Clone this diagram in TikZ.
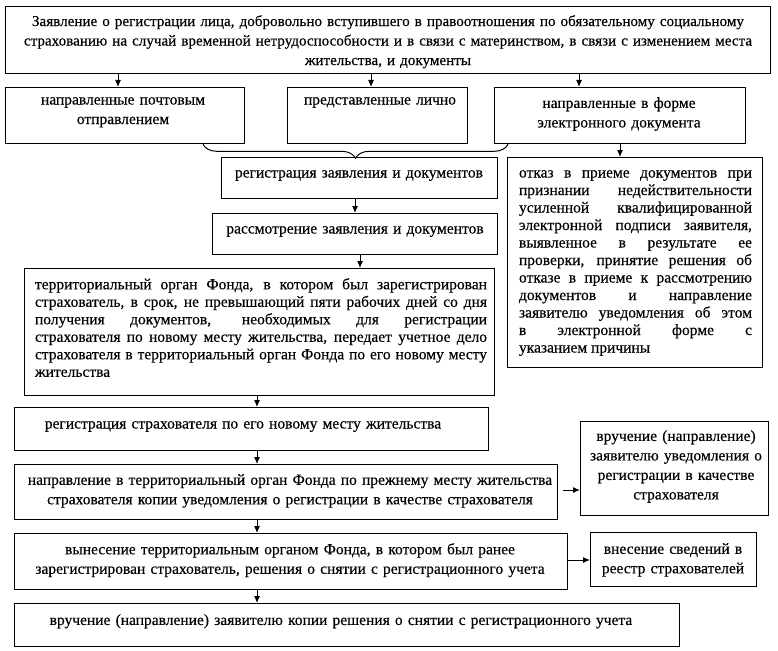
\documentclass[tikz,border=0pt]{standalone}
\usepackage{fontspec}
\setmainfont[FakeBold=0.35]{Liberation Serif}
\usetikzlibrary{arrows.meta,decorations.pathreplacing,calc}
\hyphenpenalty=10000
\exhyphenpenalty=10000
\tolerance=9999
\begin{document}
\begin{tikzpicture}[x=1pt,y=-1pt,
  box/.style={draw, line width=1.3pt, inner sep=0pt, anchor=north west},
  tc/.style={inner sep=0pt, anchor=north, align=center, font=\fontsize{15.5}{19.5}\selectfont},
  tn/.style={inner sep=0pt, anchor=north, align=center, font=\fontsize{15.5}{19}\selectfont},
  tj/.style={inner sep=0pt, anchor=north, align=justify, font=\fontsize{15.5}{17.5}\selectfont},
  arr/.style={-{Latex[length=7pt,width=6pt]}, line width=1pt}]
\useasboundingbox (0,0) rectangle (778,650);

% boxes
\node[box, minimum width=765pt, minimum height=67pt] (top) at (5,6) {};
\node[box, minimum width=239pt, minimum height=56pt] (A) at (5,87) {};
\node[box, minimum width=180pt, minimum height=56pt] (B) at (287,87) {};
\node[box, minimum width=251pt, minimum height=56pt] (C) at (494,87) {};
\node[box, minimum width=276pt, minimum height=41pt] (reg) at (221,157) {};
\node[box, minimum width=285pt, minimum height=41pt] (ras) at (212,213) {};
\node[box, minimum width=470pt, minimum height=127pt] (terr) at (24,268) {};
\node[box, minimum width=255pt, minimum height=210pt] (D) at (507,157) {};
\node[box, minimum width=474pt, minimum height=43pt] (regS) at (14,407) {};
\node[box, minimum width=543pt, minimum height=55pt] (napr) at (14,464) {};
\node[box, minimum width=188pt, minimum height=94pt] (vruch) at (580,421) {};
\node[box, minimum width=553pt, minimum height=56pt] (vyn) at (14,533) {};
\node[box, minimum width=166pt, minimum height=54pt] (vnes) at (590,532) {};
\node[box, minimum width=665pt, minimum height=43pt] (vrk) at (14,603) {};

% texts
\node[tc, text width=755pt, font=\fontsize{15.1}{19.5}\selectfont] (topt) at (388,15) {Заявление о регистрации лица, добровольно вступившего в правоотношения по обязательному социальному\\ страхованию на случай временной нетрудоспособности и в связи с материнством, в связи с изменением места\\ жительства, и документы};
\node[tc, text width=230pt] (At) at (123,97) {направленные почтовым\\ отправлением};
\node[tc, text width=175pt] (Bt) at (380,97) {представленные лично};
\node[tc, text width=240pt] (Ct) at (619,97) {направленные в форме\\ электронного документа};
\node[tn, text width=270pt] (regt) at (359,170) {регистрация заявления и документов};
\node[tn, text width=280pt] (rast) at (355,226) {рассмотрение заявления и документов};
\node[tj, text width=452pt] (terrt) at (261,278) {территориальный орган Фонда, в котором был зарегистрирован\linebreak
страхователь, в срок, не превышающий пяти рабочих дней со дня\linebreak
получения документов, необходимых для регистрации\linebreak
страхователя по новому месту жительства, передает учетное дело\linebreak
страхователя в территориальный орган Фонда по его новому месту\linebreak
жительства};
\node[tj, text width=233pt] (Dt) at (635.5,170) {отказ в приеме документов при\linebreak
признании недействительности\linebreak
усиленной квалифицированной\linebreak
электронной подписи заявителя,\linebreak
выявленное в результате ее\linebreak
проверки, принятие решения об\linebreak
отказе в приеме к рассмотрению\linebreak
документов и направление\linebreak
заявителю уведомления об этом\linebreak
в электронной форме с\linebreak
указанием причины};
\node[tc, text width=460pt] (regSt) at (243,421) {регистрация страхователя по его новому месту жительства};
\node[tc, text width=535pt] (naprt) at (290,474) {направление в территориальный орган Фонда по прежнему месту жительства\\ страхователя копии уведомления о регистрации в качестве страхователя};
\node[tc, text width=180pt] (vrucht) at (676,430) {вручение (направление)\\ заявителю уведомления о\\ регистрации в качестве\\ страхователя};
\node[tc, text width=545pt] (vynt) at (290,543) {вынесение территориальным органом Фонда, в котором был ранее\\ зарегистрирован страхователь, решения о снятии с регистрационного учета};
\node[tc, text width=160pt] (vnest) at (673,543) {внесение сведений в\\ реестр страхователей};
\node[tc, text width=655pt] (vrkt) at (341,614) {вручение (направление) заявителю копии решения о снятии с регистрационного учета};

% connectors
\draw[arr] (top.south -| 118,0) -- (A.north -| 118,0);
\draw[arr] (top.south -| 371,0) -- (B.north -| 371,0);
\draw[arr] (top.south -| 579,0) -- (C.north -| 579,0);
\draw[arr] (C.south -| 620,0) -- (D.north -| 620,0);
\coordinate (bl) at (A.south -| 203,0);
\coordinate (br) at (A.south -| 508,0);
\draw[line width=1pt, decorate, decoration={brace, mirror, amplitude=14pt}] (bl) -- (br);
\draw[arr] (reg.south -| 355,0) -- (ras.north -| 355,0);
\draw[arr] (ras.south -| 360,0) -- (terr.north -| 360,0);
\draw[arr] (terr.south -| 257,0) -- (regS.north -| 257,0);
\draw[arr] (regS.south -| 257,0) -- (napr.north -| 257,0);
\draw[arr] ([xshift=5pt]napr.east |- 0,490) -- (vruch.west |- 0,490);
\draw[arr] (napr.south -| 257,0) -- (vyn.north -| 257,0);
\draw[arr] (vyn.east |- 0,560) -- (vnes.west |- 0,560);
\draw[arr] (vyn.south -| 257,0) -- (vrk.north -| 257,0);
\end{tikzpicture}
\end{document}
